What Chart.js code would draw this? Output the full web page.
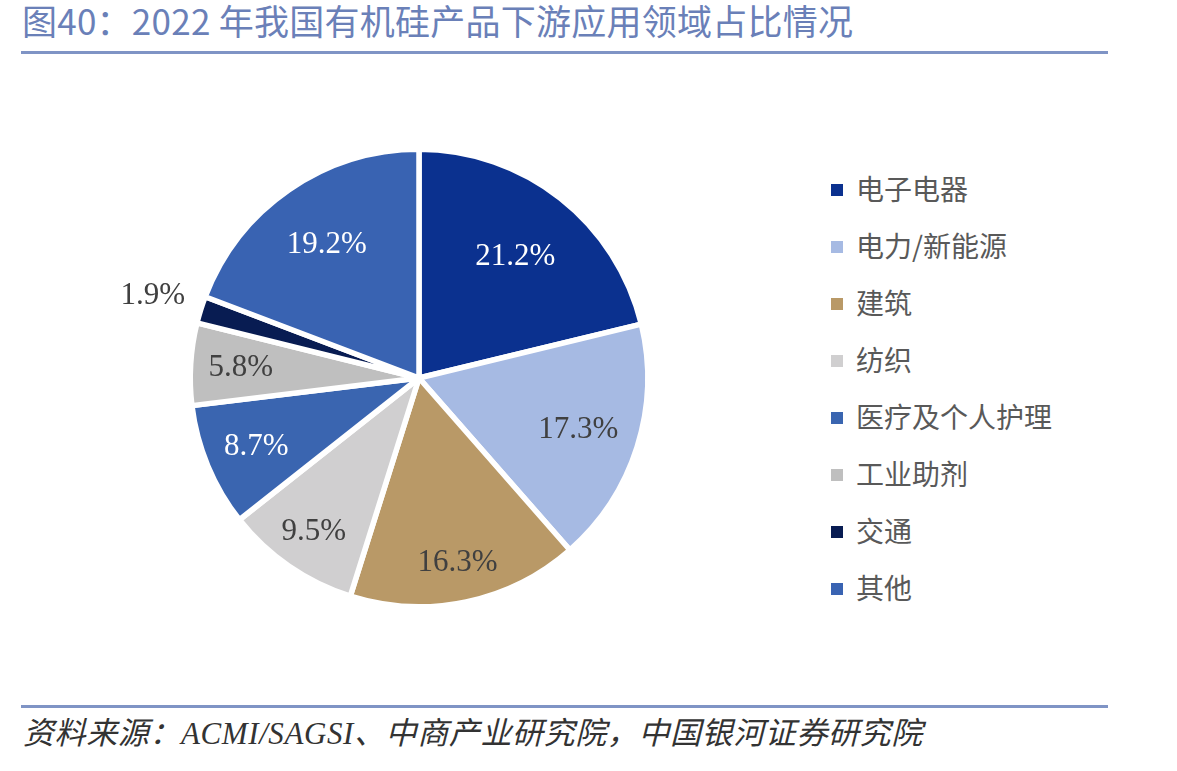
<!DOCTYPE html>
<html lang="zh-CN">
<head>
<meta charset="UTF-8">
<title>2022 年我国有机硅产品下游应用领域占比情况</title>
<script src="https://cdn.jsdelivr.net/npm/chart.js@4.4.1/dist/chart.umd.min.js"></script>
<style>
    body {
        margin: 0;
        background: #ffffff;
    }
    .page {
        position: relative;
        width: 1177px;
        height: 771px;
        overflow: hidden;
        background: #ffffff;
    }
    .title {
        position: absolute;
        left: 22px;
        top: 2px;
        font-family: "Noto Sans CJK SC", sans-serif;
        font-size: 35px;
        line-height: 36px;
        letter-spacing: 0.25px;
        color: #6a80b8;
        white-space: nowrap;
    }
    .rule {
        position: absolute;
        left: 21px;
        width: 1087px;
        height: 3px;
        background: #7f94c5;
    }
    .chart-box {
        position: absolute;
        left: 0;
        top: 60px;
        width: 820px;
        height: 640px;
    }
    .legend {
        position: absolute;
        left: 831px;
        top: 0;
        margin: 0;
        padding: 0;
        list-style: none;
        font-family: "Noto Sans CJK SC", sans-serif;
        font-size: 28px;
        color: #595959;
    }
    .legend li {
        position: absolute;
        left: 0;
        height: 40px;
        line-height: 40px;
        white-space: nowrap;
    }
    .legend .swatch {
        display: inline-block;
        width: 12px;
        height: 12px;
        margin-right: 13px;
        vertical-align: middle;
        position: relative;
        top: -2px;
    }
    .source {
        position: absolute;
        left: 23px;
        top: 716px;
        font-family: "Liberation Serif", "Noto Sans CJK SC", serif;
        font-style: italic;
        font-size: 31px;
        line-height: 36px;
        letter-spacing: 0.6px;
        color: #333333;
        white-space: nowrap;
    }
</style>
</head>
<body>
<div class="page">
    <div class="title">图40：2022 年我国有机硅产品下游应用领域占比情况</div>
    <div class="rule" style="top: 51px;"></div>

    <div class="chart-box">
        <canvas id="siliconeShareChart" width="820" height="640"></canvas>
    </div>

    <ul class="legend" id="share-legend"></ul>

    <div class="rule" style="top: 705px;"></div>
    <div class="source">资料来源：ACMI/SAGSI、中商产业研究院，中国银河证券研究院</div>
</div>

<script>
// Data (percent share, 2022)
const categories = ['电子电器', '电力/新能源', '建筑', '纺织', '医疗及个人护理', '工业助剂', '交通', '其他'];
const shares = [21.2, 17.3, 16.3, 9.5, 8.7, 5.8, 1.9, 19.2];

// Styling per slice
const sliceColors = ['#0b318f', '#a6bae3', '#b99967', '#d0cfd0', '#3a65b0', '#bfbfbf', '#081c52', '#3963b2'];
const labelColors = ['#ffffff', '#404040', '#404040', '#404040', '#ffffff', '#404040', '#404040', '#ffffff'];
// how far out each value label sits, as a fraction of the radius
const labelDist = [0.68, 0.73, 0.82, 0.81, 0.77, 0.78, 1.22, 0.71];

// Value labels drawn on / next to each slice
const sliceLabelPlugin = {
    id: 'sliceLabels',
    afterDatasetsDraw(chart) {
        const ctx = chart.ctx;
        const meta = chart.getDatasetMeta(0);
        ctx.save();
        ctx.font = '31px "Liberation Serif", serif';
        ctx.textAlign = 'center';
        ctx.textBaseline = 'middle';
        meta.data.forEach((arc, i) => {
            const p = arc.getProps(['x', 'y', 'startAngle', 'endAngle', 'outerRadius'], true);
            const mid = (p.startAngle + p.endAngle) / 2;
            const r = p.outerRadius * labelDist[i];
            ctx.fillStyle = labelColors[i];
            ctx.fillText(shares[i].toFixed(1) + '%', p.x + Math.cos(mid) * r, p.y + Math.sin(mid) * r + 1);
        });
        ctx.restore();
    }
};

function buildLegend() {
    const list = document.getElementById('share-legend');
    if (!list) return;
    categories.forEach((name, i) => {
        const item = document.createElement('li');
        // item centres step down from y=188 by 57px
        item.style.top = (188 + i * 57 - 20) + 'px';
        item.innerHTML = `<span class="swatch" style="background:${sliceColors[i]}"></span>${name}`;
        list.appendChild(item);
    });
}

function renderPie() {
    const ctx = document.getElementById('siliconeShareChart');
    if (typeof Chart === 'undefined') {
        console.error('Chart.js library is not loaded.');
        return;
    }

    new Chart(ctx, {
        type: 'pie',
        data: {
            labels: categories,
            datasets: [{
                data: shares,
                backgroundColor: sliceColors,
                borderColor: '#ffffff',
                borderWidth: 5.5
            }]
        },
        options: {
            responsive: false,
            animation: false,
            devicePixelRatio: 1,
            events: [],
            layout: {
                // puts the pie centre at (419, 378) on the page
                padding: { left: 187.5, top: 86.5, right: 169.5, bottom: 90.5 }
            },
            plugins: {
                legend: { display: false },
                tooltip: { enabled: false }
            }
        },
        plugins: [sliceLabelPlugin]
    });
}

buildLegend();
renderPie();
</script>
</body>
</html>
